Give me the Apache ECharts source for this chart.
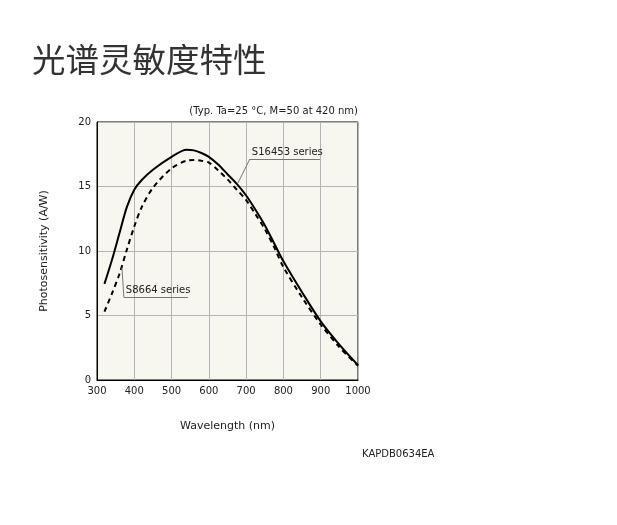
<!DOCTYPE html>
<html>
<head>
<meta charset="utf-8">
<script src="https://cdn.jsdelivr.net/npm/echarts@6/dist/echarts.min.js"></script>
<style>
  html, body { margin: 0; padding: 0; background: #fff; }
  #chart { width: 617px; height: 525px; }
</style>
</head>
<body>
<div id="chart"></div>
<script>
  // 波长 (nm)
  const wavelength = [320, 340, 360, 380, 400, 420, 450, 500, 540, 560, 580, 600, 625, 650, 675, 700, 725, 750, 775, 800, 850, 900, 950, 1000];
  // S16453 series
  const s16453 = [7.45, 9.3, 11.35, 13.4, 14.75, 15.5, 16.3, 17.3, 17.85, 17.8, 17.6, 17.3, 16.7, 15.95, 15.2, 14.3, 13.2, 12.0, 10.6, 9.2, 6.8, 4.55, 2.75, 1.15];
  // S8664 series
  const s8664 = [5.3, 6.7, 8.2, 10.1, 11.9, 13.4, 14.9, 16.4, 17.0, 17.05, 17.0, 16.85, 16.25, 15.55, 14.75, 13.95, 12.85, 11.7, 10.3, 8.75, 6.4, 4.3, 2.55, 1.1];
  const xTicks = [300, 400, 500, 600, 700, 800, 900, 1000];
  const yTicks = [0, 5, 10, 15, 20];

  const font = 'DejaVu Sans';
  let myChart = echarts.init(document.getElementById('chart'));

  const pairs = (xs, ys) => xs.map((x, i) => [x, ys[i]]);

  myChart.setOption({
    animation: false,
    title: {
      text: '光谱灵敏度特性',
      left: 27,
      top: 38,
      textStyle: { fontFamily: 'Noto Sans CJK SC', fontSize: 33.5, fontWeight: 'normal', color: '#333' }
    },
    graphic: [
      {
        type: 'text', right: 259, top: 106,
        style: { text: '(Typ. Ta=25 °C, M=50 at 420 nm)', font: '10px "DejaVu Sans"', fill: '#222' }
      },
      {
        type: 'text', left: 362, top: 449,
        style: { text: 'KAPDB0634EA', font: '10px "DejaVu Sans"', fill: '#222' }
      }
    ],
    grid: {
      left: 97, top: 122, right: 259, bottom: 145,
      show: true, backgroundColor: '#f7f6ef', borderColor: '#000', borderWidth: 1
    },
    xAxis: {
      type: 'value', min: 300, max: 1000, interval: 100,
      name: 'Wavelength (nm)', nameLocation: 'middle', nameGap: 41,
      nameTextStyle: { fontFamily: font, fontSize: 11, color: '#222' },
      axisLine: { show: true, lineStyle: { color: '#000' } },
      axisTick: { show: false },
      axisLabel: { fontFamily: font, fontSize: 10, color: '#222', margin: 6,
        customValues: xTicks, formatter: v => String(v) },
      splitLine: { show: true, lineStyle: { color: '#b4b4b4', width: 1 } }
    },
    yAxis: {
      type: 'value', min: 0, max: 20, interval: 5,
      name: 'Photosensitivity (A/W)', nameLocation: 'middle', nameGap: 47,
      nameTextStyle: { fontFamily: font, fontSize: 11, color: '#222' },
      axisLine: { show: true, lineStyle: { color: '#000' } },
      axisTick: { show: false },
      axisLabel: { fontFamily: font, fontSize: 10, color: '#222', margin: 6,
        customValues: yTicks },
      splitLine: { show: true, lineStyle: { color: '#b4b4b4', width: 1 } }
    },
    series: [
      {
        name: 'S16453 series',
        type: 'line',
        data: pairs(wavelength, s16453),
        smooth: 0.3,
        symbol: 'none',
        lineStyle: { color: '#000', width: 2 },
        markLine: {
          silent: true, symbol: 'none',
          lineStyle: { color: '#777', width: 1, type: 'solid' },
          label: { show: false },
          data: [
            [{ coord: [678, 15.27] }, { coord: [710, 17.13] }],
            [{ coord: [710, 17.13] }, { coord: [898, 17.13],
              label: { show: true, position: 'insideStartTop', distance: [2, 2], formatter: 'S16453 series',
                fontFamily: font, fontSize: 10, color: '#222' } }]
          ]
        }
      },
      {
        name: 'S8664 series',
        type: 'line',
        data: pairs(wavelength, s8664),
        smooth: 0.3,
        symbol: 'none',
        lineStyle: { color: '#000', width: 2, type: [5, 4] },
        markLine: {
          silent: true, symbol: 'none',
          lineStyle: { color: '#777', width: 1, type: 'solid' },
          label: { show: false },
          data: [
            [{ coord: [367, 8.68] }, { coord: [372, 6.43] }],
            [{ coord: [372, 6.43] }, { coord: [544, 6.43],
              label: { show: true, position: 'insideStartTop', distance: [2, 2], formatter: 'S8664 series',
                fontFamily: font, fontSize: 10, color: '#222' } }]
          ]
        }
      }
    ]
  });
</script>
</body>
</html>
